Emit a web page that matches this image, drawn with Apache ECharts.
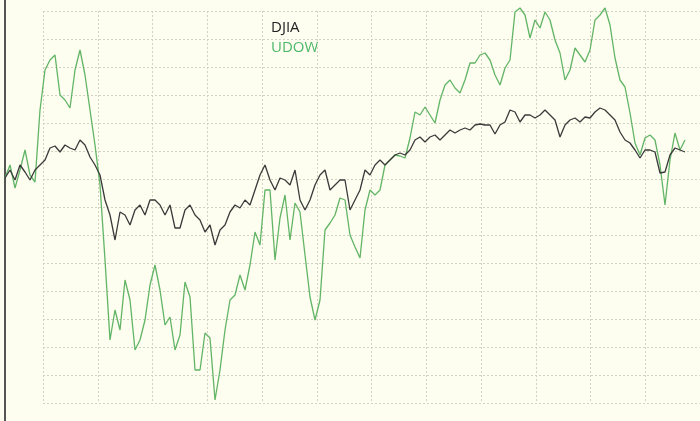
<!DOCTYPE html>
<html><head><meta charset="utf-8">
<script src="https://cdn.jsdelivr.net/npm/echarts@6/dist/echarts.min.js"></script>
<style>html,body{margin:0;padding:0;background:#fdfdf0}#c{width:700px;height:421px}</style>
</head><body><div id="c"></div>
<script>
// Unlabelled chart: values are read as depth from the top of the picture (inverted scale)
const days = Array.from({length:137},(_,i)=>i);
const djia = [178,170,180,165,172,180,170,165,160,148,146,152,145,148,150,140,145,157,165,175,200,215,240,212,215,225,210,205,215,200,200,205,215,205,228,228,210,205,215,220,232,225,245,230,225,212,205,208,200,205,190,175,165,180,190,178,180,185,170,200,210,200,185,175,170,190,185,180,180,210,200,190,170,175,165,160,165,160,155,153,155,150,140,137,142,137,135,140,135,130,133,130,128,130,125,124,125,125,134,125,122,110,112,122,115,115,118,115,110,115,120,137,125,120,118,122,117,118,112,108,110,115,120,132,140,143,150,158,150,150,152,173,172,155,148,150,152];
const udow = [178,165,188,170,150,175,182,110,70,60,55,95,100,108,70,50,75,110,145,185,260,340,310,330,280,300,350,340,320,285,265,290,325,317,350,335,282,297,370,370,333,338,400,370,330,300,295,275,290,265,232,245,190,190,260,218,195,240,203,212,255,297,320,300,230,223,215,198,200,235,247,258,210,190,195,190,165,160,155,156,158,138,112,115,107,115,123,100,85,80,88,93,80,63,63,55,53,60,75,85,68,60,12,8,15,38,20,28,12,20,40,53,80,70,48,55,62,50,20,15,8,25,58,80,87,113,143,155,138,135,140,165,205,160,133,150,140];
const names = ['DJIA','UDOW'];
const chart = echarts.init(document.getElementById('c'));
chart.setOption({
  backgroundColor:'#fdfdf0',
  animation:false,
  grid:[{left:5,right:15,top:0,bottom:0},{left:43,width:672,top:11,height:392}],
  xAxis:[
    {type:'category',data:days,boundaryGap:false,show:false,gridIndex:0},
    {type:'value',gridIndex:1,min:0,max:12,interval:1,axisLine:{show:false},axisTick:{show:false},axisLabel:{show:false},splitLine:{show:true,lineStyle:{type:[2,2],color:'#d2d2c0'}}}
  ],
  yAxis:[
    {type:'value',inverse:true,min:0,max:421,gridIndex:0,splitLine:{show:false},axisLabel:{show:false},axisTick:{show:false},axisLine:{show:true,lineStyle:{color:'#555',width:2}}},
    {type:'value',gridIndex:1,min:0,max:14,interval:1,axisLine:{show:false},axisTick:{show:false},axisLabel:{show:false},splitLine:{show:true,lineStyle:{type:[2,2],color:'#d2d2c0'}}}
  ],
  series:[
    {name:names[1],type:'line',data:udow,showSymbol:false,lineStyle:{color:'#62b566',width:1.3},z:3},
    {name:names[0],type:'line',data:djia,showSymbol:false,lineStyle:{color:'#3a3a3a',width:1.3},z:4}
  ],
  graphic:[
    {type:'text',left:271,top:20,style:{text:names[0],fill:'#222',font:'15px "Open Sans", sans-serif'}},
    {type:'text',left:271,top:40,style:{text:names[1],fill:'#4db86a',font:'15px "Open Sans", sans-serif'}}
  ]
});
</script></body></html>
